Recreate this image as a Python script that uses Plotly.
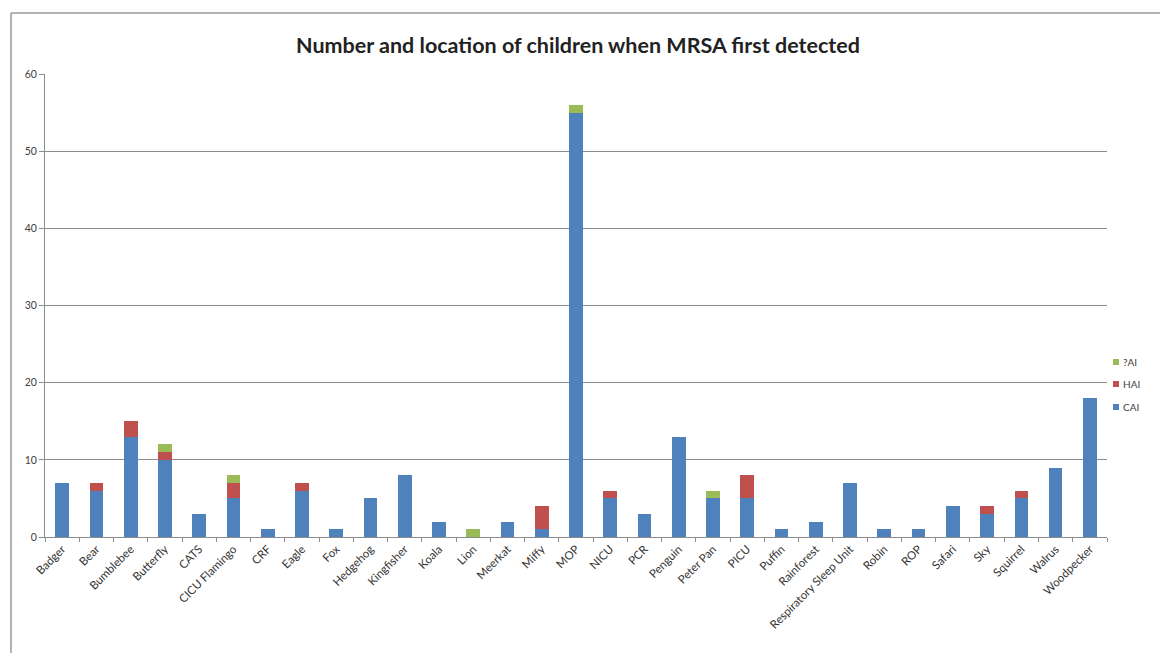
import plotly.graph_objects as go

categories = ["Badger", "Bear", "Bumblebee", "Butterfly", "CATS", "CICU Flamingo", "CRF", "Eagle",
              "Fox", "Hedgehog", "Kingfisher", "Koala", "Lion", "Meerkat", "Miffy", "MOP", "NICU",
              "PCR", "Penguin", "Peter Pan", "PICU", "Puffin", "Rainforest", "Respiratory Sleep Unit",
              "Robin", "ROP", "Safari", "Sky", "Squirrel", "Walrus", "Woodpecker"]
cai = [7, 6, 13, 10, 3, 5, 1, 6, 1, 5, 8, 2, 0, 2, 1, 55, 5, 3, 13, 5, 5, 1, 2, 7, 1, 1, 4, 3, 5, 9, 18]
hai = [0, 1, 2, 1, 0, 2, 0, 1, 0, 0, 0, 0, 0, 0, 3, 0, 1, 0, 0, 0, 3, 0, 0, 0, 0, 0, 0, 1, 1, 0, 0]
qai = [0, 0, 0, 1, 0, 1, 0, 0, 0, 0, 0, 0, 1, 0, 0, 1, 0, 0, 0, 1, 0, 0, 0, 0, 0, 0, 0, 0, 0, 0, 0]
y_ticks = [0, 10, 20, 30, 40, 50, 60]
series_names = ["CAI", "HAI", "?AI"]
series_colors = ["#4F81BD", "#C0504D", "#9BBB59"]

W, H = 1160, 653
L, R, T, B = 45, 53, 74, 116
pw, ph = W - L - R, H - T - B

def px_x(p):
    return (p - L) / pw

def px_y(p):
    return (H - B - p) / ph

font = "Lato, 'Open Sans', sans-serif"
fig = go.Figure()
for name, vals, col in zip(series_names, [cai, hai, qai], series_colors):
    fig.add_bar(x=categories, y=vals, name=name, marker_color=col, marker_line_width=0,
                showlegend=False)

# custom legend (compact, like the original)
legend_y = {"?AI": 362, "HAI": 384, "CAI": 407}
for name, col in zip(series_names, series_colors):
    yc = legend_y[name]
    fig.add_shape(type="rect", xref="paper", yref="paper",
                  x0=px_x(1113), x1=px_x(1119), y0=px_y(yc + 3), y1=px_y(yc - 3),
                  fillcolor=col, line=dict(width=0))
    fig.add_annotation(text=name, xref="paper", yref="paper", x=px_x(1121), y=px_y(yc),
                       xanchor="left", yanchor="middle", showarrow=False,
                       font=dict(size=10, color="#404040", family=font))

# outer chart frame (top and left edges visible)
fx = px_x(11)
fy = px_y(13)
fig.add_shape(type="line", xref="paper", yref="paper", x0=fx, x1=1.2, y0=fy, y1=fy,
              line=dict(color="#9a9a9a", width=1.5))
fig.add_shape(type="line", xref="paper", yref="paper", x0=fx, x1=fx, y0=fy, y1=-0.4,
              line=dict(color="#9a9a9a", width=1.5))

fig.update_layout(
    width=W, height=H,
    margin=dict(l=L, r=R, t=T, b=B, autoexpand=False),
    paper_bgcolor="white", plot_bgcolor="white",
    barmode="stack", bargap=0.6,
    font=dict(family=font, color="#404040"),
    title=dict(text="<b>Number and location of children when MRSA first detected</b>",
               x=(578 - L) / pw, xref="paper", xanchor="center", y=1 - 45 / H, yanchor="middle",
               font=dict(size=21.5, color="#222222", family=font)),
    showlegend=False,
)
fig.update_xaxes(type="category", tickangle=-45, tickfont=dict(size=11.5, color="#333333"),
                 showline=True, linecolor="#8c8c8c", linewidth=1,
                 ticks="outside", tickson="boundaries", ticklen=4, tickcolor="#8c8c8c",
                 showgrid=False)
fig.update_yaxes(range=[0, 60], tickvals=y_ticks, tickfont=dict(size=10.5, color="#404040"),
                 showline=True, linecolor="#8c8c8c", linewidth=1,
                 ticks="outside", ticklen=5, tickcolor="#8c8c8c",
                 showgrid=True, gridcolor="#8c8c8c", gridwidth=1, zeroline=False)

fig.write_html("out.html")
